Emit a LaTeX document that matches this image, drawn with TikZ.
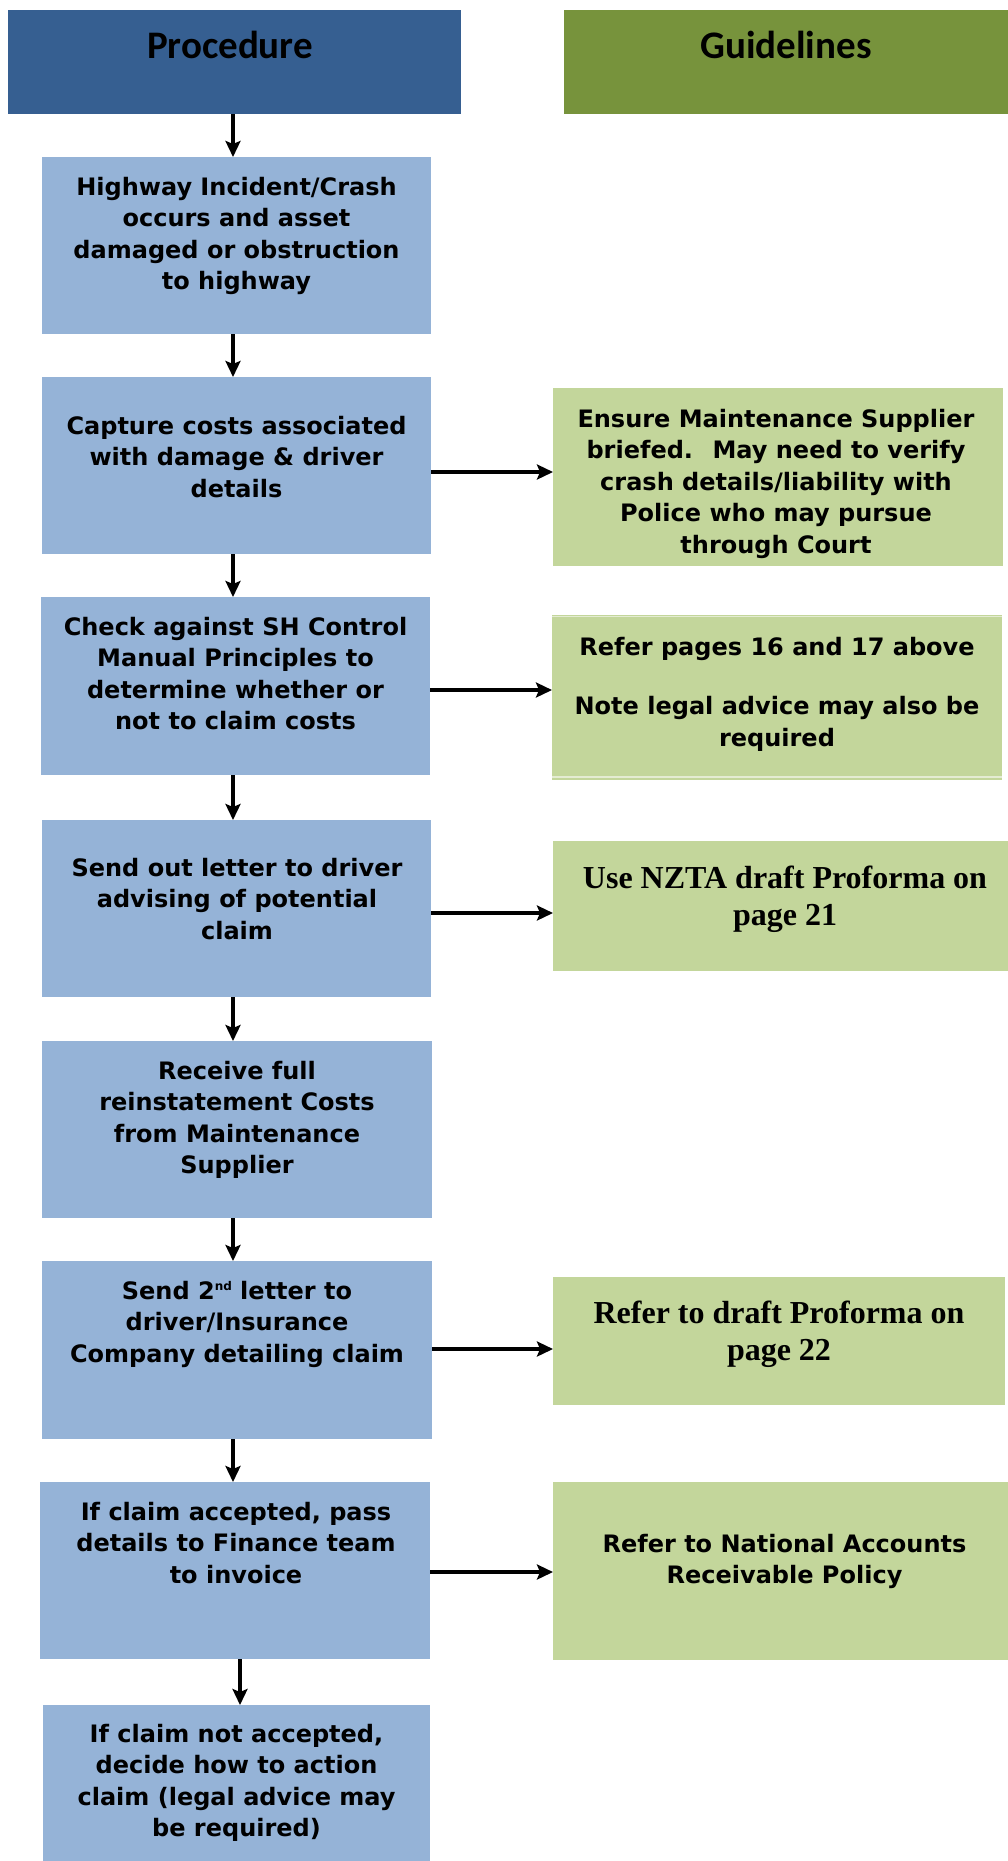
\documentclass[tikz,border=0pt]{standalone}
\usepackage{fontspec}
\setmainfont{DejaVu Sans}
\newfontfamily\hdrfont{Carlito}
\newfontfamily\tmsfont{Liberation Serif}
\usetikzlibrary{arrows.meta}
\definecolor{hblue}{HTML}{365F91}
\definecolor{hgreen}{HTML}{77933C}
\definecolor{bblue}{HTML}{95B3D7}
\definecolor{bgreen}{HTML}{C3D69B}
\definecolor{lgreen}{HTML}{E4ECD2}
\begin{document}
\begin{tikzpicture}[x=1pt,y=-1pt,
  box/.style={inner sep=0pt, outer sep=0pt, draw=none},
  pbox/.style={box, fill=bblue},
  gbox/.style={box, fill=bgreen},
  ptext/.style={anchor=north, yshift=16pt, inner sep=0pt, align=center, font=\fontsize{24pt}{31.5pt}\selectfont\bfseries, execute at begin node=\strut},
  ttext/.style={anchor=north, yshift=19pt, inner sep=0pt, align=center, font=\tmsfont\fontsize{32pt}{37pt}\selectfont\bfseries, execute at begin node=\strut},
  htext/.style={anchor=base, inner sep=0pt, font=\hdrfont\fontsize{39pt}{47pt}\selectfont\bfseries},
  arr/.style={line width=3.2pt, -{Stealth[length=16pt,width=15pt,inset=3pt]}}
]
\useasboundingbox (0,0) rectangle (1008,1861);

% headers
\node[box, fill=hblue, minimum width=453pt, minimum height=104pt] (hp) at (234.5,62) {};
\node[box, fill=hgreen, minimum width=444pt, minimum height=104pt] (hg) at (786,62) {};
\node[htext] (hpt) at (230,58) {Procedure};
\node[htext] (hgt) at (786,58) {Guidelines};

% procedure boxes
\node[pbox, minimum width=389pt, minimum height=177pt] (b1) at (236.5,245.5) {};
\node[pbox, minimum width=389pt, minimum height=177pt] (b2) at (236.5,465.5) {};
\node[pbox, minimum width=389pt, minimum height=178pt] (b3) at (235.5,686) {};
\node[pbox, minimum width=389pt, minimum height=177pt] (b4) at (236.5,908.5) {};
\node[pbox, minimum width=390pt, minimum height=177pt] (b5) at (237,1129.5) {};
\node[pbox, minimum width=390pt, minimum height=178pt] (b6) at (237,1350) {};
\node[pbox, minimum width=390pt, minimum height=177pt] (b7) at (235,1570.5) {};
\node[pbox, minimum width=387pt, minimum height=156pt] (b8) at (236.5,1783) {};

\node[ptext] (t1) at (236.5,193) {Highway Incident/Crash\\occurs and asset\\damaged or obstruction\\to highway};
\node[ptext] (t2) at (236.5,432) {Capture costs associated\\with damage \& driver\\details};
\node[ptext] (t3) at (235.5,633) {Check against SH Control\\Manual Principles to\\determine whether or\\not to claim costs};
\node[ptext] (t4) at (237,874) {Send out letter to driver\\advising of potential\\claim};
\node[ptext] (t5) at (237,1077) {Receive full\\reinstatement Costs\\from Maintenance\\Supplier};
\node[ptext] (t6) at (237,1297) {Send 2\raisebox{9pt}{\fontsize{12pt}{12pt}\selectfont nd} letter to\\driver/Insurance\\Company detailing claim};
\node[ptext] (t7) at (236,1518) {If claim accepted, pass\\details to Finance team\\to invoice};
\node[ptext] (t8) at (236.5,1740) {If claim not accepted,\\decide how to action\\claim (legal advice may\\be required)};

% guideline boxes
\node[gbox, minimum width=450pt, minimum height=178pt] (g1) at (778,477) {};
\node[gbox, minimum width=450pt, minimum height=165pt] (g2) at (777,697.5) {};
\node[gbox, minimum width=455pt, minimum height=130pt] (g3) at (780.5,906) {};
\node[gbox, minimum width=452pt, minimum height=128pt] (g4) at (779,1341) {};
\node[gbox, minimum width=455pt, minimum height=178pt] (g5) at (780.5,1571) {};
\draw[lgreen, line width=1.2pt] ([yshift=-1.5pt]g2.north west) -- ([yshift=-1.5pt]g2.north east);
\draw[lgreen, line width=1.2pt] ([yshift=3pt]g2.south west) -- ([yshift=3pt]g2.south east);

\node[ptext] (gt1) at (776,425) {Ensure Maintenance Supplier\\briefed.~ May need to verify\\crash details/liability with\\Police who may pursue\\through Court};
\node[ptext] (gt2) at (777,653) {Refer pages 16 and 17 above\\[27.7pt]Note legal advice may also be\\required};
\node[ttext] (gt3) at (785,885) {Use NZTA draft Proforma on\\page 21};
\node[ttext] (gt4) at (779,1320) {Refer to draft Proforma on\\page 22};
\node[ptext] (gt5) at (784.5,1550) {Refer to National Accounts\\Receivable Policy};

% connectors
\coordinate (xa) at (233,0);
\coordinate (xb) at (240,0);
\draw[arr] (hp.south -| xa) -- (b1.north -| xa);
\draw[arr] (b1.south -| xa) -- (b2.north -| xa);
\draw[arr] (b2.south -| xa) -- (b3.north -| xa);
\draw[arr] (b3.south -| xa) -- (b4.north -| xa);
\draw[arr] (b4.south -| xa) -- (b5.north -| xa);
\draw[arr] (b5.south -| xa) -- (b6.north -| xa);
\draw[arr] (b6.south -| xa) -- (b7.north -| xa);
\draw[arr] (b7.south -| xb) -- (b8.north -| xb);

\coordinate (ya1) at (0,472);
\coordinate (ya2) at (0,690);
\coordinate (ya3) at (0,913);
\coordinate (ya4) at (0,1349);
\coordinate (ya5) at (0,1572);
\draw[arr] (b2.east |- ya1) -- (g1.west |- ya1);
\draw[arr] (b3.east |- ya2) -- (g2.west |- ya2);
\draw[arr] (b4.east |- ya3) -- (g3.west |- ya3);
\draw[arr] (b6.east |- ya4) -- (g4.west |- ya4);
\draw[arr] (b7.east |- ya5) -- (g5.west |- ya5);
\end{tikzpicture}
\end{document}
